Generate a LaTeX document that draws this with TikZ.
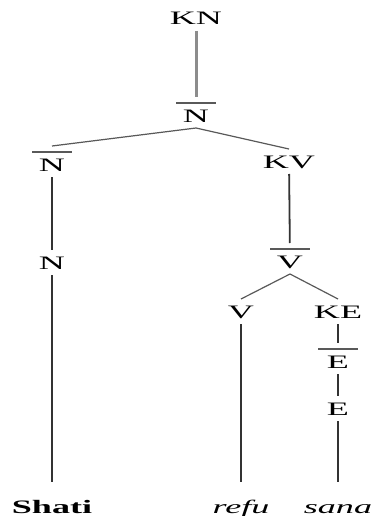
\documentclass[tikz,border=0pt]{standalone}
\usepackage{fontspec}
\setmainfont{Liberation Serif}[FakeStretch=1.9]
\usetikzlibrary{calc,positioning}
\begin{document}
\begin{tikzpicture}[x=1pt, y=-1pt, line/.style={draw=black!80, line width=1.8pt}, branch/.style={draw=black!65, line width=1.2pt}]
% Define styles for categories, barred categories and words
\tikzstyle{cat} = [inner sep=0pt, outer xsep=0pt, outer ysep=6pt, anchor=base, text height=13pt, text depth=0pt, font=\fontsize{19}{20}\selectfont]
\tikzstyle{barcat} = [cat, text height=19pt, minimum width=40pt, append after command={([yshift=-6pt]\tikzlastnode.north west) edge[branch] ([yshift=-6pt]\tikzlastnode.north east)}]
\tikzstyle{word} = [cat, outer ysep=18pt]

\useasboundingbox (0,0) rectangle (372,516);

% Nodes placement
\node [cat] (kn) at (196,25) {KN};
\node [barcat] (nbar) at (196,122) {N};
\node [barcat] (nleft) at (52,171) {N};
\node [cat] (kv) at (289,168) {KV};
\node [cat] (n) at (52,269) {N};
\node [barcat] (vbar) at (290,268) {V};
\node [cat] (v) at (241,318) {V};
\node [cat] (ke) at (338,318) {KE};
\node [barcat] (ebar) at (338,368) {E};
\node [cat] (e) at (338,415) {E};

% Words
\node [word, font=\fontsize{19}{20}\selectfont\bfseries] (shati) at (52,513) {Shati};
\node [word, font=\fontsize{19}{20}\selectfont\itshape] (refu) at (241,513) {refu};
\node [word, font=\fontsize{19}{20}\selectfont\itshape] (sana) at (338,513) {sana};

% Draw edges
\draw[draw=black!45, line width=3pt] (kn) -- (nbar);
\draw[branch] (nbar.south) -- (nleft.north);
\draw[branch] (nbar.south) -- (kv.north);
\draw[line] (nleft) -- (n);
\draw[line] (n) -- (shati);
\draw[line] (kv) -- (vbar);
\draw[branch] (vbar.south) -- (v.north);
\draw[branch] (vbar.south) -- (ke.north);
\draw[line] (v) -- (refu);
\draw[line] (ke) -- (ebar);
\draw[line] (ebar) -- (e);
\draw[line] (e) -- (sana);
\end{tikzpicture}
\end{document}
